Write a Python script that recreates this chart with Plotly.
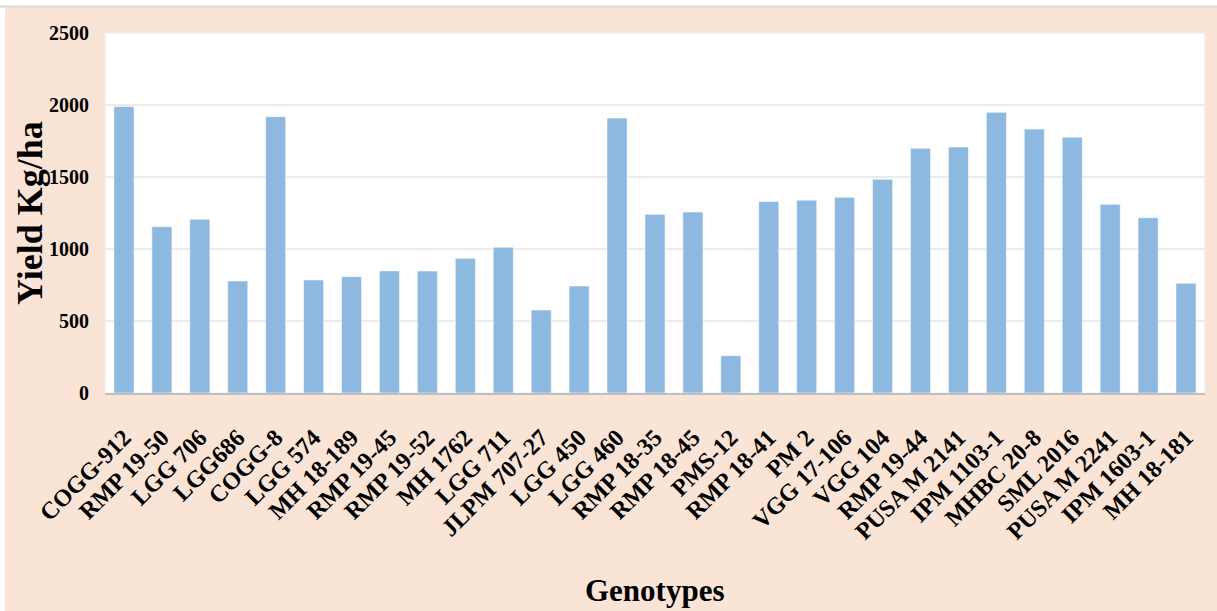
import plotly.graph_objects as go

genotypes = [
    "COGG-912", "RMP 19-50", "LGG 706", "LGG686", "COGG-8", "LGG 574",
    "MH 18-189", "RMP 19-45", "RMP 19-52", "MH 1762", "LGG 711",
    "JLPM 707-27", "LGG 450", "LGG 460", "RMP 18-35", "RMP 18-45",
    "PMS-12", "RMP 18-41", "PM 2", "VGG 17-106", "VGG 104", "RMP 19-44",
    "PUSA M 2141", "IPM 1103-1", "MHBC 20-8", "SML 2016", "PUSA M 2241",
    "IPM 1603-1", "MH 18-181",
]
yield_kg_ha = [
    1990, 1155, 1206, 778, 1919, 785,
    808, 848, 847, 935, 1012,
    576, 743, 1909, 1241, 1257,
    259, 1329, 1339, 1359, 1484, 1699,
    1708, 1949, 1833, 1776, 1310,
    1217, 762,
]
y_ticks = [0, 500, 1000, 1500, 2000, 2500]

PEACH = "#FAE4D6"
BAR = "#8DB8E0"
FONT = "Liberation Serif"

fig = go.Figure(
    go.Bar(
        x=genotypes,
        y=yield_kg_ha,
        marker=dict(color=BAR, line=dict(color="rgba(255,255,255,0.55)", width=1)),
    )
)

# plot area in pixels: x 105..1205, y 33..393
W, H = 1217, 611
L, R, T, B = 105, 12, 33, 218
pw, ph = W - L - R, H - T - B

def px_x(px):
    return (px - L) / pw

def px_y(py):
    return (H - B - py) / ph

shapes = [
    # white strip on top and left edges of the page
    dict(type="rect", xref="paper", yref="paper", x0=px_x(0), x1=px_x(W),
         y0=px_y(6), y1=px_y(0), fillcolor="white", line_width=0, layer="below"),
    dict(type="rect", xref="paper", yref="paper", x0=px_x(0), x1=px_x(5),
         y0=px_y(H), y1=px_y(0), fillcolor="white", line_width=0, layer="below"),
    dict(type="line", xref="paper", yref="paper", x0=px_x(0), x1=px_x(W),
         y0=px_y(6.5), y1=px_y(6.5), line=dict(color="#D9D9D9", width=2)),
    # faint border round the plot area
    dict(type="rect", xref="paper", yref="paper", x0=0, x1=1, y0=0, y1=1,
         line=dict(color="#EDEDED", width=1), layer="below"),
]

fig.update_layout(
    width=W, height=H,
    margin=dict(l=L, r=R, t=T, b=B),
    paper_bgcolor=PEACH,
    plot_bgcolor="white",
    bargap=0.47,
    showlegend=False,
    shapes=shapes,
    font=dict(family=FONT, color="black"),
    xaxis=dict(
        tickangle=-45,
        tickfont=dict(family=FONT, size=24, color="black", weight="bold"),
        showline=True, linecolor="#BFBFBF", linewidth=2,
        ticks="outside", ticklen=19, tickcolor="rgba(0,0,0,0)",
        showgrid=False,
    ),
    yaxis=dict(
        range=[0, 2500],
        tickvals=y_ticks,
        tickfont=dict(family=FONT, size=20, color="black", weight="bold"),
        gridcolor="#EBEBEB", gridwidth=1.5,
        zeroline=False,
        ticks="outside", ticklen=11, tickcolor="rgba(0,0,0,0)",
    ),
    annotations=[
        dict(text="Yield Kg/ha", xref="paper", yref="paper",
             x=px_x(30), y=px_y(213), textangle=-90, showarrow=False,
             font=dict(family=FONT, size=36, color="black", weight="bold"),
             xanchor="center", yanchor="middle"),
        dict(text="Genotypes", xref="paper", yref="paper",
             x=px_x(655), y=px_y(590), showarrow=False,
             font=dict(family=FONT, size=31, color="black", weight="bold"),
             xanchor="center", yanchor="middle"),
    ],
)

fig.write_html("out.html")
